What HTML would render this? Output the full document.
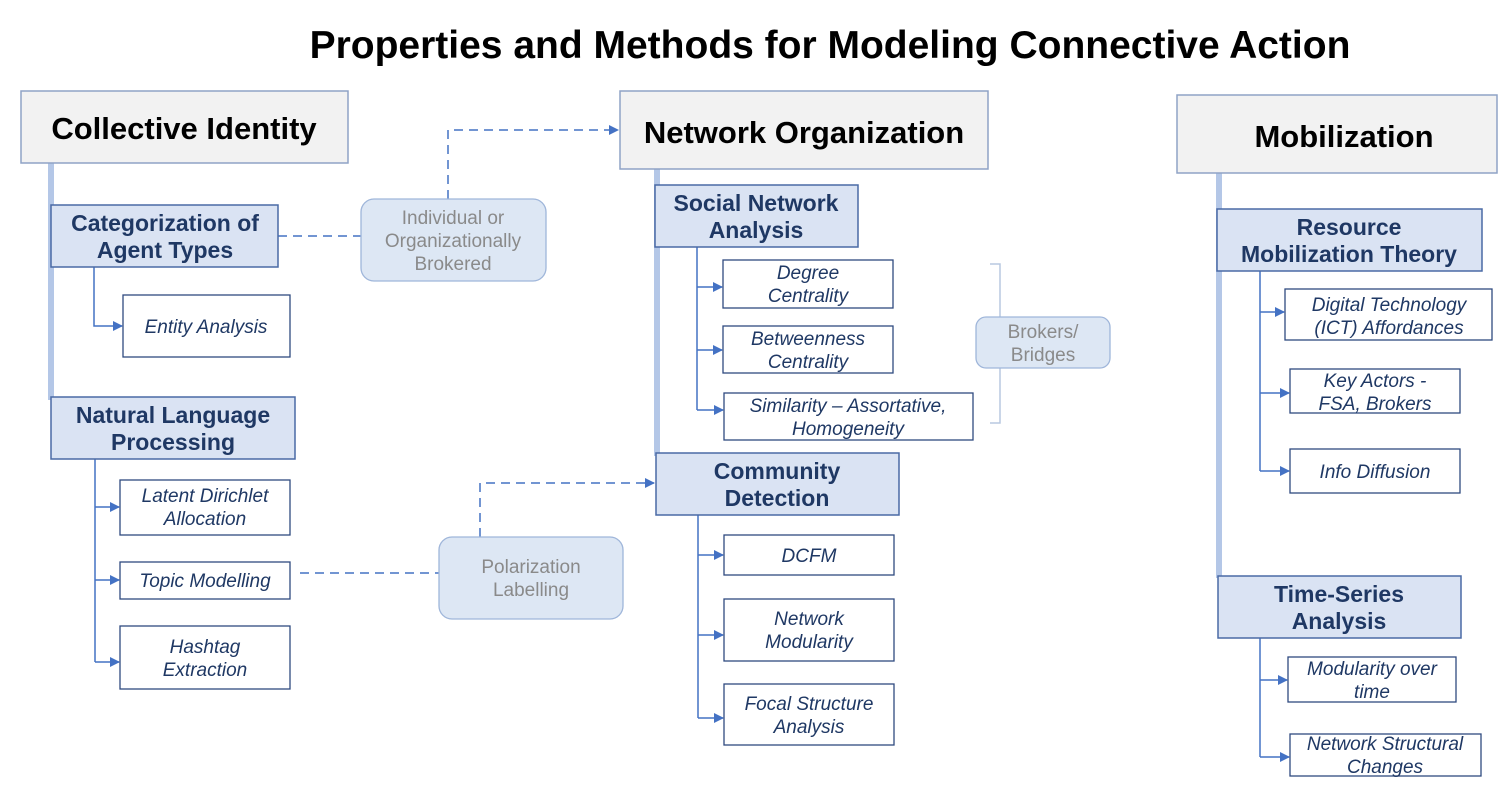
<!DOCTYPE html>
<html><head><meta charset="utf-8"><style>
body{margin:0;background:#fff}
svg text{font-family:"Liberation Sans",Arial,sans-serif}
.h{fill:#f2f2f2;stroke:#8fa3c6;stroke-width:1.5}
.ht{font-size:31px;font-weight:bold;fill:#000;text-anchor:middle}
.l2{fill:#dae3f3;stroke:#4a6aa5;stroke-width:1.5}
.l2t{font-size:23px;font-weight:bold;fill:#1f3864;text-anchor:middle}
.lf{fill:#fff;stroke:#2f4a80;stroke-width:1.3}
.lt{font-size:19px;font-style:italic;fill:#1f3864;text-anchor:middle}
.rb{fill:#dde7f4;stroke:#9fb6da;stroke-width:1.3}
.rt{font-size:19px;fill:#8a8a8a;text-anchor:middle}
.c{stroke:#4472c4;stroke-width:1.5;fill:none}
.d{stroke:#4472c4;stroke-width:1.5;fill:none;stroke-dasharray:9,6}
.v{stroke:#b4c7e7;stroke-width:6}
</style></head><body>
<svg width="1508" height="794" xmlns="http://www.w3.org/2000/svg">
<defs><marker id="a" markerWidth="10" markerHeight="10" refX="9" refY="5" orient="auto" markerUnits="userSpaceOnUse"><path d="M0,0 L10,5 L0,10 z" fill="#4472c4"/></marker></defs>
<text x="830" y="58" style="font-size:39px;font-weight:bold;text-anchor:middle">Properties and Methods for Modeling Connective Action</text>

<line class="v" x1="51" y1="163" x2="51" y2="400"/>
<line class="v" x1="657" y1="169" x2="657" y2="456"/>
<line class="v" x1="1219" y1="173" x2="1219" y2="578"/>

<rect class="h" x="21" y="91" width="327" height="72"/><text class="ht" x="184" y="139">Collective Identity</text>
<rect class="h" x="620" y="91" width="368" height="78"/><text class="ht" x="804" y="143">Network Organization</text>
<rect class="h" x="1177" y="95" width="320" height="78"/><text class="ht" x="1344" y="147">Mobilization</text>

<path class="c" d="M94,267 V326 H122" marker-end="url(#a)"/>
<path class="c" d="M95,459 V662"/>
<path class="c" d="M95,507 H119" marker-end="url(#a)"/><path class="c" d="M95,580 H119" marker-end="url(#a)"/><path class="c" d="M95,662 H119" marker-end="url(#a)"/>
<path class="c" d="M697,247 V410"/>
<path class="c" d="M697,287 H722" marker-end="url(#a)"/><path class="c" d="M697,350 H722" marker-end="url(#a)"/><path class="c" d="M697,410 H723" marker-end="url(#a)"/>
<path class="c" d="M698,515 V718"/>
<path class="c" d="M698,555 H723" marker-end="url(#a)"/><path class="c" d="M698,635 H723" marker-end="url(#a)"/><path class="c" d="M698,718 H723" marker-end="url(#a)"/>
<path class="c" d="M1260,271 V471"/>
<path class="c" d="M1260,312 H1284" marker-end="url(#a)"/><path class="c" d="M1260,393 H1289" marker-end="url(#a)"/><path class="c" d="M1260,471 H1289" marker-end="url(#a)"/>
<path class="c" d="M1260,638 V757"/>
<path class="c" d="M1260,680 H1287" marker-end="url(#a)"/><path class="c" d="M1260,757 H1289" marker-end="url(#a)"/>

<path class="d" d="M278,236 H361"/>
<path class="d" d="M448,199 V130 H618" marker-end="url(#a)"/>
<path class="d" d="M300,573 H439"/>
<path class="d" d="M480,537 V483 H654" marker-end="url(#a)"/>
<path d="M990,264 H1000 V423 H990 M1000,342 H976" stroke="#b8c8e0" stroke-width="1.5" fill="none"/>

<rect class="l2" x="51" y="205" width="227" height="62"/><text class="l2t" x="165" y="231">Categorization of</text><text class="l2t" x="165" y="258">Agent Types</text>
<rect class="l2" x="51" y="397" width="244" height="62"/><text class="l2t" x="173" y="423">Natural Language</text><text class="l2t" x="173" y="450">Processing</text>
<rect class="l2" x="655" y="185" width="203" height="62"/><text class="l2t" x="756" y="211">Social Network</text><text class="l2t" x="756" y="238">Analysis</text>
<rect class="l2" x="656" y="453" width="243" height="62"/><text class="l2t" x="777" y="479">Community</text><text class="l2t" x="777" y="506">Detection</text>
<rect class="l2" x="1217" y="209" width="265" height="62"/><text class="l2t" x="1349" y="235">Resource</text><text class="l2t" x="1349" y="262">Mobilization Theory</text>
<rect class="l2" x="1218" y="576" width="243" height="62"/><text class="l2t" x="1339" y="602">Time-Series</text><text class="l2t" x="1339" y="629">Analysis</text>

<rect class="lf" x="123" y="295" width="167" height="62"/><text class="lt" x="206" y="333">Entity Analysis</text>
<rect class="lf" x="120" y="480" width="170" height="55"/><text class="lt" x="205" y="502">Latent Dirichlet</text><text class="lt" x="205" y="525">Allocation</text>
<rect class="lf" x="120" y="562" width="170" height="37"/><text class="lt" x="205" y="587">Topic Modelling</text>
<rect class="lf" x="120" y="626" width="170" height="63"/><text class="lt" x="205" y="653">Hashtag</text><text class="lt" x="205" y="676">Extraction</text>
<rect class="lf" x="723" y="260" width="170" height="48"/><text class="lt" x="808" y="279">Degree</text><text class="lt" x="808" y="302">Centrality</text>
<rect class="lf" x="723" y="326" width="170" height="47"/><text class="lt" x="808" y="345">Betweenness</text><text class="lt" x="808" y="368">Centrality</text>
<rect class="lf" x="724" y="393" width="249" height="47"/><text class="lt" x="848" y="412">Similarity – Assortative,</text><text class="lt" x="848" y="435">Homogeneity</text>
<rect class="lf" x="724" y="535" width="170" height="40"/><text class="lt" x="809" y="562">DCFM</text>
<rect class="lf" x="724" y="599" width="170" height="62"/><text class="lt" x="809" y="625">Network</text><text class="lt" x="809" y="648">Modularity</text>
<rect class="lf" x="724" y="684" width="170" height="61"/><text class="lt" x="809" y="710">Focal Structure</text><text class="lt" x="809" y="733">Analysis</text>
<rect class="lf" x="1285" y="289" width="207" height="51"/><text class="lt" x="1389" y="311">Digital Technology</text><text class="lt" x="1389" y="334">(ICT) Affordances</text>
<rect class="lf" x="1290" y="369" width="170" height="44"/><text class="lt" x="1375" y="387">Key Actors -</text><text class="lt" x="1375" y="410">FSA, Brokers</text>
<rect class="lf" x="1290" y="449" width="170" height="44"/><text class="lt" x="1375" y="478">Info Diffusion</text>
<rect class="lf" x="1288" y="657" width="168" height="45"/><text class="lt" x="1372" y="675">Modularity over</text><text class="lt" x="1372" y="698">time</text>
<rect class="lf" x="1290" y="734" width="191" height="42"/><text class="lt" x="1385" y="750">Network Structural</text><text class="lt" x="1385" y="773">Changes</text>

<rect class="rb" x="361" y="199" width="185" height="82" rx="13"/><text class="rt" x="453" y="224">Individual or</text><text class="rt" x="453" y="247">Organizationally</text><text class="rt" x="453" y="270">Brokered</text>
<rect class="rb" x="976" y="317" width="134" height="51" rx="10"/><text class="rt" x="1043" y="338">Brokers/</text><text class="rt" x="1043" y="361">Bridges</text>
<rect class="rb" x="439" y="537" width="184" height="82" rx="13"/><text class="rt" x="531" y="573">Polarization</text><text class="rt" x="531" y="596">Labelling</text>
</svg>
</body></html>
